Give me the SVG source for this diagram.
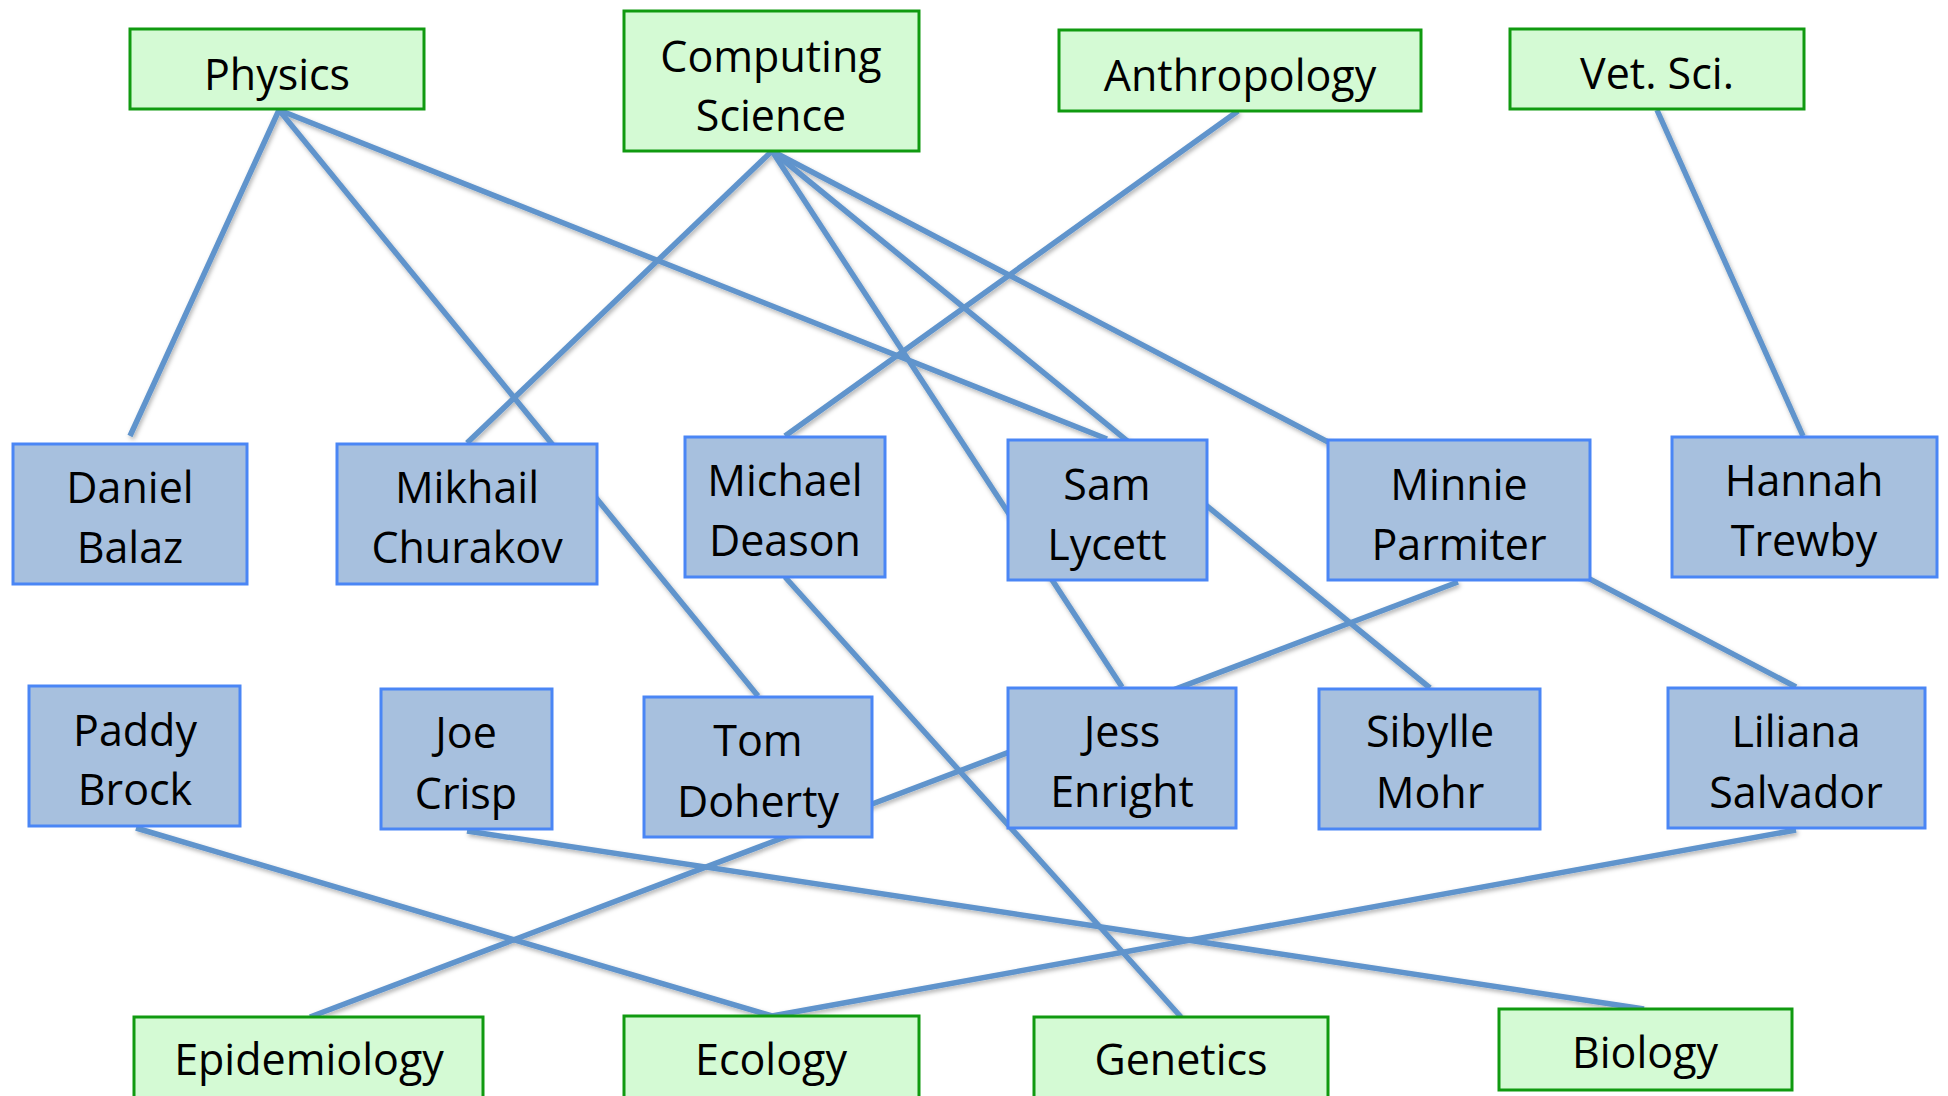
<svg xmlns="http://www.w3.org/2000/svg" width="1948" height="1096" viewBox="0 0 1948 1096">
<defs>
<style>
.dept{fill:#d4fad4;stroke:#109a10;stroke-width:3}
.person{fill:#a7c0de;stroke:#4a86f5;stroke-width:3}
.lbl{font-family:"Open Sans","Noto Sans",sans-serif;font-size:43px;fill:#000;text-anchor:middle}
.edge{stroke:#6094cc;stroke-width:5.5;fill:none;stroke-linecap:butt}
</style>
<filter id="sh" x="-10%" y="-10%" width="120%" height="120%">
<feDropShadow dx="1.5" dy="2.5" stdDeviation="2" flood-color="#000" flood-opacity="0.3"/>
</filter>
</defs>
<rect width="1948" height="1096" fill="#fff"/>
<g id="connectors" filter="url(#sh)">
<line class="edge" x1="279" y1="110" x2="130" y2="436"/>
<line class="edge" x1="279" y1="110" x2="758" y2="696"/>
<line class="edge" x1="279" y1="110" x2="1107" y2="439"/>
<line class="edge" x1="772" y1="151" x2="467" y2="443"/>
<line class="edge" x1="772" y1="151" x2="1122" y2="687"/>
<line class="edge" x1="772" y1="151" x2="1430" y2="688"/>
<line class="edge" x1="772" y1="151" x2="1796" y2="687"/>
<line class="edge" x1="1238" y1="111" x2="785" y2="436"/>
<line class="edge" x1="1657" y1="110" x2="1803" y2="436"/>
<line class="edge" x1="785" y1="577" x2="1181" y2="1017"/>
<line class="edge" x1="1458" y1="582" x2="310" y2="1017"/>
<line class="edge" x1="136" y1="828" x2="772" y2="1016"/>
<line class="edge" x1="1796" y1="830" x2="772" y2="1016"/>
<line class="edge" x1="467" y1="831" x2="1644" y2="1009"/>
</g>
<g id="physics"><rect class="dept" x="130" y="29" width="294" height="80"/><text class="lbl" x="277" y="90">Physics</text></g>
<g id="computing-science"><rect class="dept" x="624" y="11" width="295" height="140"/><text class="lbl" x="771" y="72">Computing</text><text class="lbl" x="771" y="131">Science</text></g>
<g id="anthropology"><rect class="dept" x="1059" y="30" width="362" height="81"/><text class="lbl" x="1240" y="91">Anthropology</text></g>
<g id="vet-sci"><rect class="dept" x="1510" y="29" width="294" height="80"/><text class="lbl" x="1657" y="89">Vet. Sci.</text></g>
<g id="daniel-balaz"><rect class="person" x="13" y="444" width="234" height="140"/><text class="lbl" x="130" y="503">Daniel</text><text class="lbl" x="130" y="563">Balaz</text></g>
<g id="mikhail-churakov"><rect class="person" x="337" y="444" width="260" height="140"/><text class="lbl" x="467" y="503">Mikhail</text><text class="lbl" x="467" y="563">Churakov</text></g>
<g id="michael-deason"><rect class="person" x="685" y="437" width="200" height="140"/><text class="lbl" x="785" y="496">Michael</text><text class="lbl" x="785" y="556">Deason</text></g>
<g id="sam-lycett"><rect class="person" x="1008" y="440" width="199" height="140"/><text class="lbl" x="1107" y="500">Sam</text><text class="lbl" x="1107" y="560">Lycett</text></g>
<g id="minnie-parmiter"><rect class="person" x="1328" y="440" width="262" height="140"/><text class="lbl" x="1459" y="500">Minnie</text><text class="lbl" x="1459" y="560">Parmiter</text></g>
<g id="hannah-trewby"><rect class="person" x="1672" y="437" width="265" height="140"/><text class="lbl" x="1804" y="496">Hannah</text><text class="lbl" x="1804" y="556">Trewby</text></g>
<g id="paddy-brock"><rect class="person" x="29" y="686" width="211" height="140"/><text class="lbl" x="135" y="746">Paddy</text><text class="lbl" x="135" y="805">Brock</text></g>
<g id="joe-crisp"><rect class="person" x="381" y="689" width="171" height="140"/><text class="lbl" x="466" y="748">Joe</text><text class="lbl" x="466" y="809">Crisp</text></g>
<g id="tom-doherty"><rect class="person" x="644" y="697" width="228" height="140"/><text class="lbl" x="758" y="756">Tom</text><text class="lbl" x="758" y="817">Doherty</text></g>
<g id="jess-enright"><rect class="person" x="1008" y="688" width="228" height="140"/><text class="lbl" x="1122" y="747">Jess</text><text class="lbl" x="1122" y="807">Enright</text></g>
<g id="sibylle-mohr"><rect class="person" x="1319" y="689" width="221" height="140"/><text class="lbl" x="1430" y="747">Sibylle</text><text class="lbl" x="1430" y="808">Mohr</text></g>
<g id="liliana-salvador"><rect class="person" x="1668" y="688" width="257" height="140"/><text class="lbl" x="1796" y="747">Liliana</text><text class="lbl" x="1796" y="808">Salvador</text></g>
<g id="epidemiology"><rect class="dept" x="134" y="1017" width="349" height="100"/><text class="lbl" x="309" y="1075">Epidemiology</text></g>
<g id="ecology"><rect class="dept" x="624" y="1016" width="295" height="100"/><text class="lbl" x="771" y="1075">Ecology</text></g>
<g id="genetics"><rect class="dept" x="1034" y="1017" width="294" height="100"/><text class="lbl" x="1181" y="1075">Genetics</text></g>
<g id="biology"><rect class="dept" x="1499" y="1009" width="293" height="81"/><text class="lbl" x="1645" y="1068">Biology</text></g>
</svg>
